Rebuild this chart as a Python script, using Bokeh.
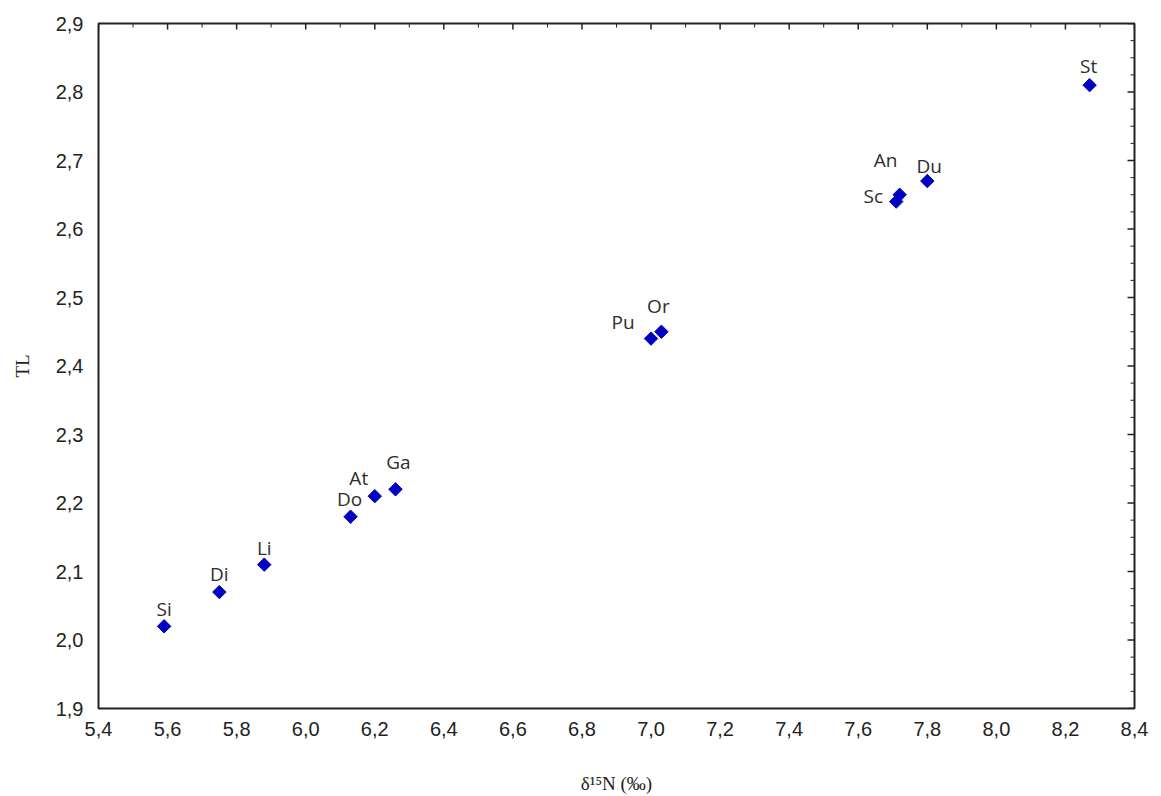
import math
from bokeh.plotting import figure
from bokeh.models import ColumnDataSource, FixedTicker
from bokeh.core.properties import value
from bokeh.embed import file_html
from bokeh.resources import INLINE

# ---- data ----
species = ["Si", "Di", "Li", "Do", "At", "Ga", "Pu", "Or", "Sc", "An", "Du", "St"]
d15n = [5.59, 5.75, 5.88, 6.13, 6.20, 6.26, 7.00, 7.03, 7.71, 7.72, 7.80, 8.27]
tl = [2.02, 2.07, 2.11, 2.18, 2.21, 2.22, 2.44, 2.45, 2.64, 2.65, 2.67, 2.81]

x_ticks = [5.4, 5.6, 5.8, 6.0, 6.2, 6.4, 6.6, 6.8, 7.0, 7.2, 7.4, 7.6, 7.8, 8.0, 8.2, 8.4]
x_tick_labels = ["5,4", "5,6", "5,8", "6,0", "6,2", "6,4", "6,6", "6,8", "7,0", "7,2",
                 "7,4", "7,6", "7,8", "8,0", "8,2", "8,4"]
y_ticks = [1.9, 2.0, 2.1, 2.2, 2.3, 2.4, 2.5, 2.6, 2.7, 2.8, 2.9]
y_tick_labels = ["1,9", "2,0", "2,1", "2,2", "2,3", "2,4", "2,5", "2,6", "2,7", "2,8", "2,9"]

x_title = "δ¹⁵N (‰)"
y_title = "TL"

X_MIN, X_MAX = 5.4, 8.4
Y_MIN, Y_MAX = 1.9, 2.9

# label placement (screen pixels relative to the marker)
label_dx = {"Si": 0, "Di": 0, "Li": 0, "Do": -1, "At": -16, "Ga": 3, "Pu": -28,
            "Or": -3, "Sc": -23, "An": -14, "Du": 2, "St": -1}
label_dy = {"Si": -17, "Di": -18, "Li": -17, "Do": -18, "At": -18, "Ga": -27, "Pu": -17,
            "Or": -26, "Sc": -6, "An": -35, "Du": -15, "St": -19}

source = ColumnDataSource(dict(
    x=d15n, y=tl, name=species,
    dx=[label_dx[s] for s in species],
    dy=[label_dy[s] for s in species],
))

p = figure(width=1161, height=796, x_range=(X_MIN, X_MAX), y_range=(Y_MIN, Y_MAX),
           output_backend="svg", toolbar_location=None,
           min_border_left=98, min_border_right=27, min_border_top=23, min_border_bottom=87,
           x_axis_label=x_title, y_axis_label=y_title)
p.background_fill_color = "white"
p.border_fill_color = "white"
p.outline_line_color = "#222222"
p.outline_line_width = 2
p.xgrid.visible = False
p.ygrid.visible = False

# bottom axis
xa = p.xaxis[0]
xa.ticker = FixedTicker(ticks=x_ticks)
xa.major_label_overrides = {t: l for t, l in zip(x_ticks, x_tick_labels)}
xa.axis_line_color = None
xa.major_tick_line_color = None
xa.minor_tick_line_color = None
xa.major_tick_out = 0
xa.major_label_standoff = 13
xa.major_label_text_font = "Liberation Sans"
xa.major_label_text_font_size = "20px"
xa.major_label_text_color = "#222222"
xa.axis_label_text_font = "Liberation Serif"
xa.axis_label_text_font_style = "normal"
xa.axis_label_text_font_size = "19px"
xa.axis_label_text_color = "#222222"
xa.axis_label_standoff = 34

# left axis
ya = p.yaxis[0]
ya.ticker = FixedTicker(ticks=y_ticks)
ya.major_label_overrides = {t: l for t, l in zip(y_ticks, y_tick_labels)}
ya.axis_line_color = None
ya.major_tick_line_color = None
ya.minor_tick_line_color = None
ya.major_tick_out = 0
ya.major_label_standoff = 15
ya.major_label_text_font = "Liberation Sans"
ya.major_label_text_font_size = "20px"
ya.major_label_text_color = "#222222"
ya.axis_label_text_font = "Liberation Serif"
ya.axis_label_text_font_style = "normal"
ya.axis_label_text_font_size = "19px"
ya.axis_label_text_color = "#222222"
ya.axis_label_standoff = 20

# inward tick marks on the top and right edges of the frame
x_minor = [round(t + 0.1, 1) for t in x_ticks[:-1]]
y_minor = [round(Y_MIN + 0.025 * i, 3) for i in range(41) if i % 4 != 0]

p.ray(x=x_ticks, y=[Y_MAX] * len(x_ticks), length=6, length_units="screen",
      angle=-math.pi / 2, line_color="#222222", line_width=1.5)
p.ray(x=x_minor, y=[Y_MAX] * len(x_minor), length=4, length_units="screen",
      angle=-math.pi / 2, line_color="#222222", line_width=1)
p.ray(x=[X_MAX] * len(y_ticks), y=y_ticks, length=7, length_units="screen",
      angle=math.pi, line_color="#222222", line_width=1.5)
p.ray(x=[X_MAX] * len(y_minor), y=y_minor, length=4, length_units="screen",
      angle=math.pi, line_color="#222222", line_width=1)

p.scatter("x", "y", source=source, marker="square", angle=math.pi / 4, size=9.5,
          fill_color="#0000C0", line_color="#0000C0")

p.text("x", "y", text="name", source=source, x_offset="dx", y_offset="dy",
       text_align="center", text_baseline="middle",
       text_font=value("Open Sans"), text_font_size="19px", text_color="#2d2d2d")

open("out.html", "w").write(file_html(p, INLINE))
